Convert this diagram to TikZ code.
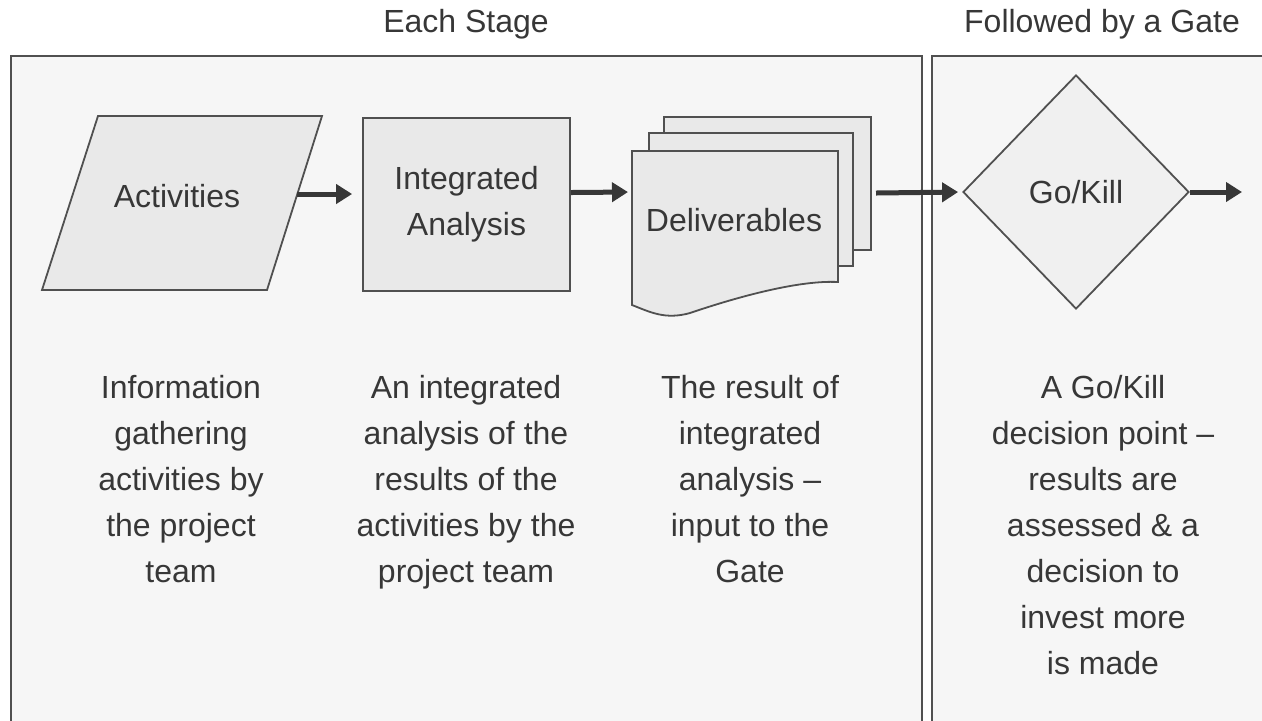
\documentclass[tikz,border=0pt]{standalone}
\usepackage{fontspec}
\setmainfont{Liberation Sans}
\definecolor{PanelColor}{RGB}{246,246,246}
\definecolor{ShapeColor}{RGB}{233,233,233}
\definecolor{GateColor}{RGB}{240,240,240}
\definecolor{LineColor}{RGB}{80,80,80}
\definecolor{TextColor}{RGB}{55,55,55}
\usetikzlibrary{positioning, arrows.meta, shapes.geometric}
\tikzstyle{arrow} = [line width=2.5pt, TextColor, -{Triangle[length=8pt,width=9.5pt]}, shorten >=2pt]
\tikzstyle{panel} = [draw=LineColor, line width=1pt, fill=PanelColor]
\tikzstyle{shapebox} = [draw=LineColor, line width=0.9pt, fill=ShapeColor, text=TextColor, align=center, inner sep=0pt]
\tikzstyle{desc} = [text=TextColor, align=center, anchor=north, inner sep=0pt]
\tikzstyle{heading} = [text=TextColor, anchor=base, inner sep=0pt]

\begin{document}
\begin{tikzpicture}[x=0.5pt, y=-0.5pt, font=\fontsize{16}{23}\selectfont]
                \useasboundingbox (0,0) rectangle (1262,720);
                \clip (0,0) rectangle (1262,720);

                % Stage and gate panels
                \draw[panel] (11,56) rectangle (922,740);
                \draw[panel] (932,56) rectangle (1280,740);
                \node[heading] (stagehead) at (466,32) {Each Stage};
                \node[heading] (gatehead) at (1102,32) {Followed by a Gate};

                % Activities
                \draw[shapebox] (98,116) -- (322,116) -- (267,290) -- (42,290) -- cycle;
                \node[text=TextColor, inner sep=0pt] (act) at (177,196) {Activities};
                \coordinate (actout) at (297,194);

                % Integrated analysis
                \node[shapebox, minimum width=103.5pt, minimum height=86.5pt] (ana) at (466.5,204.5) {Integrated\\Analysis};

                % Stack of deliverables
                \draw[shapebox] (664,117) rectangle (871,250);
                \draw[shapebox] (649,133) rectangle (853,266);
                \draw[shapebox] (632,151) -- (838,151) -- (838,282)
                      .. controls (800,280) and (740,296) .. (690,313)
                      .. controls (665,320) and (650,312) .. (632,305) -- cycle;
                \node[text=TextColor, inner sep=0pt] (del) at (734,220) {Deliverables};
                \coordinate (delin) at (632,192);
                \coordinate (delout) at (876,193);

                % Go/Kill gate
                \node[shapebox, diamond, fill=GateColor, minimum width=113pt, minimum height=117pt] (gate) at (1076,192) {Go/Kill};
                \coordinate (gateout) at (1246,192);

                % Flow
                \draw[arrow, shorten >=5pt] (actout) -- (actout -| ana.west);
                \draw[arrow] ([yshift=6pt]ana.east) -- (delin);
                \draw[arrow] (delout) -- (gate.west);
                \draw[arrow] (gate.east) -- (gateout);

                % Descriptions
                \node[desc] (actdesc) at (181,375) {Information\\gathering\\activities by\\the project\\team};
                \node[desc] (anadesc) at (466,375) {An integrated\\analysis of the\\results of the\\activities by the\\project team};
                \node[desc] (deldesc) at (750,375) {The result of\\integrated\\analysis –\\input to the\\Gate};
                \node[desc] (gatedesc) at (1103,375) {A Go/Kill\\decision point –\\results are\\assessed \& a\\decision to\\invest more\\is made};
            \end{tikzpicture}
\end{document}
